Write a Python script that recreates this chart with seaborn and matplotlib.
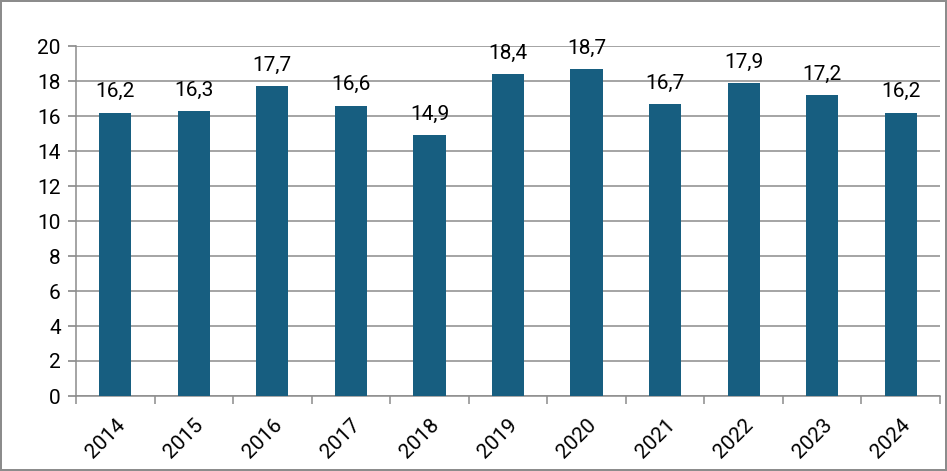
import matplotlib.pyplot as plt
import numpy as np
import pandas as pd
import seaborn as sns
from matplotlib.ticker import FixedLocator, MultipleLocator

# Données
annees = ["2014", "2015", "2016", "2017", "2018", "2019",
          "2020", "2021", "2022", "2023", "2024"]
valeurs = [16.2, 16.3, 17.7, 16.6, 14.9, 18.4, 18.7, 16.7, 17.9, 17.2, 16.2]

COULEUR_BARRE = "#175e80"
COULEUR_GRILLE = "#8c8c8c"

sns.set_theme(style="white")
plt.rcParams["font.family"] = ["Roboto", "DejaVu Sans"]

df = pd.DataFrame({"annee": annees, "valeur": valeurs})

fig = plt.figure(figsize=(9.47, 4.71), dpi=100)
fig.patch.set_edgecolor(COULEUR_GRILLE)
fig.patch.set_linewidth(1.5)
ax = fig.add_axes([76 / 947, 1 - 396 / 471, 864 / 947, 350 / 471])

sns.barplot(data=df, x="annee", y="valeur", color=COULEUR_BARRE,
            width=0.41, saturation=1, linewidth=0, ax=ax, zorder=3)

for p, v in zip(ax.patches, valeurs):
    ax.annotate(f"{v:.1f}".replace(".", ","),
                (p.get_x() + p.get_width() / 2, p.get_height()),
                xytext=(0, 11), textcoords="offset points",
                ha="center", va="baseline", fontsize=15, color="black")

ax.set_ylim(0, 20)
ax.set_xlim(-0.5, len(annees) - 0.5)
ax.yaxis.set_major_locator(MultipleLocator(2))
ax.yaxis.grid(True, color=COULEUR_GRILLE, linewidth=1.1, zorder=0)
ax.set_axisbelow(True)

for side in ["top", "right"]:
    ax.spines[side].set_visible(False)
for side in ["left", "bottom"]:
    ax.spines[side].set_color(COULEUR_GRILLE)
    ax.spines[side].set_linewidth(1.1)

ax.tick_params(axis="y", which="major", left=True, length=6,
               color=COULEUR_GRILLE, labelsize=15, labelcolor="black", pad=5)
ax.tick_params(axis="x", which="major", bottom=False, labelsize=15,
               labelcolor="black", pad=8)
ax.xaxis.set_minor_locator(FixedLocator(np.arange(-0.5, len(annees), 1)))
ax.tick_params(axis="x", which="minor", bottom=True, length=6,
               color=COULEUR_GRILLE, width=1.1)
plt.setp(ax.get_xticklabels(), rotation=45, ha="right", rotation_mode="anchor")

ax.set_xlabel("")
ax.set_ylabel("")

fig.savefig("out.png", dpi=100, edgecolor=fig.get_edgecolor())
